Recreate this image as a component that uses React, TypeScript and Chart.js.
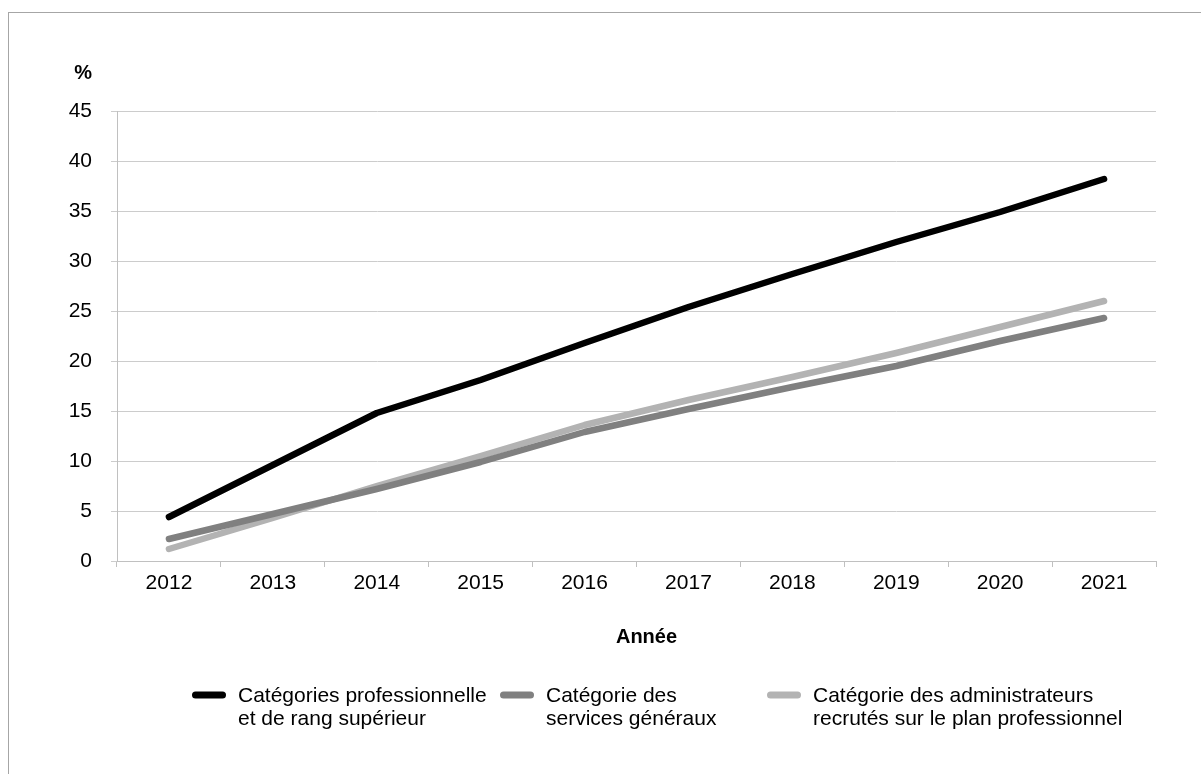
import React, { useEffect, useRef } from "react";
import { Chart, registerables } from "chart.js";

Chart.register(...registerables);

const years = ["2012", "2013", "2014", "2015", "2016", "2017", "2018", "2019", "2020", "2021"];
const professionalSeries = [4.4, 9.6, 14.8, 18.1, 21.8, 25.4, 28.7, 31.9, 34.9, 38.2];
const generalServiceSeries = [2.2, 4.7, 7.2, 9.9, 12.9, 15.2, 17.4, 19.5, 22.0, 24.3];
const nationalOfficerSeries = [1.2, 4.3, 7.5, 10.5, 13.6, 16.1, 18.4, 20.8, 23.4, 26.0];
const seriesLabels: string[][] = [
  ["Catégories professionnelle", "et de rang supérieur"],
  ["Catégorie des", "services généraux"],
  ["Catégorie des administrateurs", "recrutés sur le plan professionnel"],
];
const seriesColors = ["#000000", "#808080", "#b3b3b3"];
const yUnit = "%";
const xTitle = "Année";

const FONT = "'Liberation Sans', Arial, sans-serif";

const overlayPlugin = {
  id: "overlay",
  afterDraw(chart: any) {
    const { ctx, chartArea } = chart;
    ctx.save();
    // unit label
    ctx.fillStyle = "#000";
    ctx.font = `bold 20px ${FONT}`;
    ctx.textAlign = "right";
    ctx.textBaseline = "alphabetic";
    ctx.fillText(yUnit, chartArea.left - 25, chartArea.top - 32);
    // x title
    ctx.textAlign = "center";
    ctx.fillText(xTitle, (chartArea.left + chartArea.right) / 2 + 10, chartArea.bottom + 82);
    // legend
    const itemX = [192, 500, 767];
    const swY = chartArea.bottom + 134;
    chart.data.datasets.forEach((ds: any, i: number) => {
      const x0 = itemX[i];
      ctx.strokeStyle = ds.borderColor;
      ctx.lineWidth = 7;
      ctx.lineCap = "round";
      ctx.beginPath();
      ctx.moveTo(x0 + 3.5, swY);
      ctx.lineTo(x0 + 30.5, swY);
      ctx.stroke();
      ctx.fillStyle = "#000";
      ctx.font = `21px ${FONT}`;
      ctx.textAlign = "left";
      const lines: string[] = ds.legendLines;
      lines.forEach((t, k) => {
        ctx.fillText(t, x0 + 46, swY + 7 + k * 23);
      });
    });
    ctx.restore();
  },
};

export default function App() {
  const ref = useRef<HTMLCanvasElement | null>(null);
  useEffect(() => {
    if (!ref.current) return;
    const mk = (data: number[], i: number) => ({
      label: seriesLabels[i].join(" "),
      legendLines: seriesLabels[i],
      data,
      borderColor: seriesColors[i],
      backgroundColor: seriesColors[i],
      borderWidth: 6.5,
      borderCapStyle: "round",
      borderJoinStyle: "round",
      pointRadius: 0,
      tension: 0,
      fill: false,
    });
    const chart = new Chart(ref.current, {
      type: "line",
      data: {
        labels: years,
        datasets: [
          mk(professionalSeries, 0),
          mk(generalServiceSeries, 1),
          mk(nationalOfficerSeries, 2),
        ] as any,
      },
      options: {
        animation: false,
        responsive: false,
        devicePixelRatio: 1,
        layout: { padding: { top: 111, right: 45, bottom: 0, left: 0 } },
        plugins: { legend: { display: false }, tooltip: { enabled: false }, title: { display: false } },
        scales: {
          x: {
            type: "category",
            offset: true,
            grid: { offset: true, drawOnChartArea: false, drawTicks: true, tickLength: 6, color: "#c0c0c0" },
            border: { color: "#c0c0c0" },
            ticks: { color: "#000", font: { family: FONT, size: 21 }, padding: 4, maxRotation: 0, autoSkip: false },
            afterFit: (s: any) => { s.height = 213; },
          },
          y: {
            min: 0,
            max: 45,
            ticks: { stepSize: 5, color: "#000", font: { family: FONT, size: 21 }, padding: 19 },
            grid: { color: "#cccccc", tickLength: 6, drawTicks: true },
            border: { color: "#c0c0c0" },
            afterFit: (s: any) => { s.width = 117; },
          },
        },
      } as any,
      plugins: [overlayPlugin],
    });
    return () => chart.destroy();
  }, []);
  return (
    <div style={{ position: "absolute", left: 0, top: 0, width: 1201, height: 774, background: "#fff", overflow: "hidden" }}>
      <div style={{ position: "absolute", left: 8, top: 12, width: 1300, height: 900, borderLeft: "1px solid #a6a6a6", borderTop: "1px solid #a6a6a6" }} />
      <canvas ref={ref} width={1201} height={774} style={{ position: "absolute", left: 0, top: 0, width: 1201, height: 774 }} />
    </div>
  );
}
